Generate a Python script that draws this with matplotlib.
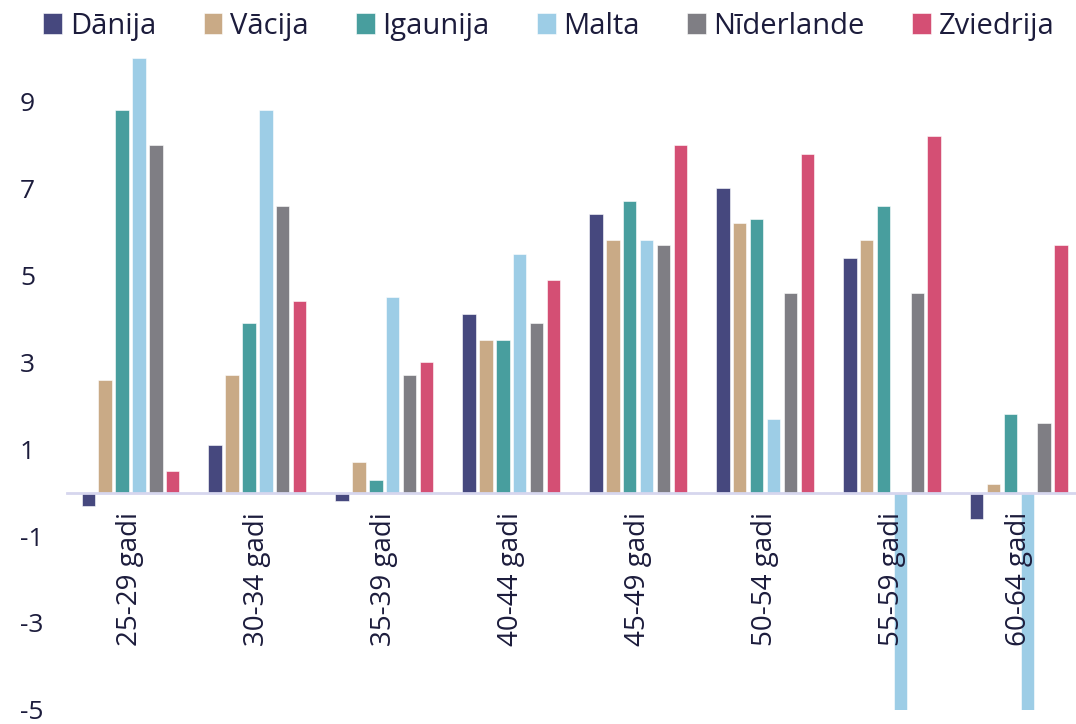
import matplotlib
matplotlib.use("Agg")
import matplotlib.pyplot as plt
import numpy as np

plt.rcParams['font.family'] = ['Open Sans', 'DejaVu Sans']

# data
groups = ['25-29 gadi', '30-34 gadi', '35-39 gadi', '40-44 gadi',
          '45-49 gadi', '50-54 gadi', '55-59 gadi', '60-64 gadi']
countries = ['Dānija', 'Vācija', 'Igaunija', 'Malta', 'Nīderlande', 'Zviedrija']
danija     = [-0.3, 1.1, -0.2, 4.1, 6.4, 7.0, 5.4, -0.6]
vacija     = [2.6, 2.7, 0.7, 3.5, 5.8, 6.2, 5.8, 0.2]
igaunija   = [8.8, 3.9, 0.3, 3.5, 6.7, 6.3, 6.6, 1.8]
malta      = [10.0, 8.8, 4.5, 5.5, 5.8, 1.7, -6.0, -6.0]
niderlande = [8.0, 6.6, 2.7, 3.9, 5.7, 4.6, 4.6, 1.6]
zviedrija  = [0.5, 4.4, 3.0, 4.9, 8.0, 7.8, 8.2, 5.7]
yticks = [-5, -3, -1, 1, 3, 5, 7, 9]

series = [danija, vacija, igaunija, malta, niderlande, zviedrija]
colors = ['#46487e', '#c9aa86', '#489e9e', '#9dcde6', '#7f7e84', '#d44f74']
text_col = '#1c1c3c'

fig = plt.figure(figsize=(10.76, 7.24), dpi=100)
ax = fig.add_axes([0.0623, 0.0195, 0.9377, 0.9005])

x = np.arange(len(groups))
step = 0.133
width = 0.106
for i, (vals, c, name) in enumerate(zip(series, colors, countries)):
    ax.bar(x + (i - 2.5) * step, vals, width, color=c, label=name,
           edgecolor='white', linewidth=0.4, zorder=2)

ax.set_xlim(-0.5, 7.45)
ax.set_ylim(-5, 10)
ax.set_yticks(yticks)
ax.set_yticklabels([str(v) for v in yticks])
ax.set_xticks(x)
ax.set_xticklabels(groups)
ax.set_axisbelow(False)  # labels over the long Malta bars

for s in ['left', 'right', 'top']:
    ax.spines[s].set_visible(False)
ax.spines['bottom'].set_position(('data', 0))
ax.spines['bottom'].set_color('#d6d6ee')
ax.spines['bottom'].set_linewidth(2)
ax.spines['bottom'].set_zorder(3)

ax.tick_params(axis='y', length=0, pad=34, labelsize=19, labelcolor=text_col)
ax.tick_params(axis='x', length=0, pad=14, labelsize=20, labelcolor=text_col,
               labelrotation=90)
for lbl in ax.get_yticklabels():
    lbl.set_horizontalalignment('left')

fig.legend(loc='upper left', bbox_to_anchor=(0.016, 1.02), ncol=6, frameon=False,
           fontsize=21, handlelength=0.65, handleheight=0.75, handletextpad=0.25,
           columnspacing=1.63, labelcolor=text_col)

fig.savefig('out.png', dpi=100)
